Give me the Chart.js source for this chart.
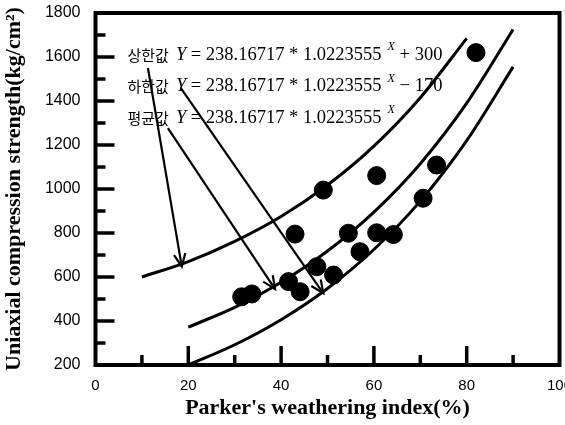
<!DOCTYPE html>
<html>
<head>
<meta charset="utf-8">
<script src="https://cdn.jsdelivr.net/npm/chart.js@4.4.1/dist/chart.umd.min.js"></script>
<style>
  html, body { margin: 0; padding: 0; background: #fff; overflow: hidden; }
  #wrap { position: relative; width: 580px; height: 425px; }
</style>
</head>
<body>
<div id="wrap"><canvas id="c" width="580" height="425"></canvas></div>
<script>
// ---- data ----
const upperX = [10, 20, 30, 40, 50, 60, 70, 80];
const upperY = [600, 670, 762, 875, 1018, 1195, 1415, 1685];
const meanX = [20, 30, 40, 50, 60, 70, 80, 90];
const meanY = [372, 462, 576, 718, 895, 1115, 1390, 1725];
const lowerX = [20, 30, 40, 50, 60, 70, 80, 90];
const lowerY = [200, 292, 406, 548, 725, 945, 1220, 1555];
const pointX = [31.5, 33.7, 41.6, 44.1, 43.0, 47.7, 51.3, 49.1, 54.5, 57.0, 60.6, 64.2, 60.6, 70.6, 73.5, 82.0];
const pointY = [510, 523, 579, 533, 795, 647, 609, 995, 799, 715, 801, 793, 1061, 958, 1109, 1620];
const arrowStartX = [11.3, 15.6, 18.4];
const arrowStartY = [1550, 1277, 1459];
const arrowEndX = [18.6, 38.7, 49.1];
const arrowEndY = [647, 545, 526];
const formulaNames = ['상한값', '하한값', '평균값'];
const formulaBody = ' = 238.16717 * 1.0223555';
const formulaSuffix = [' + 300', ' − 170', ''];
const xTitle = "Parker's weathering index(%)";
const yTitle = 'Uniaxial compression strength(kg/cm²)';

const toXY = (xs, ys) => xs.map((x, i) => ({ x: x, y: ys[i] }));

const curveStyle = { showLine: true, borderColor: '#000', borderWidth: 3, pointRadius: 0, fill: false, tension: 0.4, cubicInterpolationMode: 'monotone' };

const datasets = [
  Object.assign({ label: 'upper', data: toXY(upperX, upperY) }, curveStyle),
  Object.assign({ label: 'mean', data: toXY(meanX, meanY) }, curveStyle),
  Object.assign({ label: 'lower', data: toXY(lowerX, lowerY) }, curveStyle),
  { label: 'points', data: toXY(pointX, pointY), pointRadius: 9, pointBackgroundColor: '#000', pointBorderColor: '#000', showLine: false }
];
arrowStartX.forEach((sx, i) => {
  datasets.push({ label: 'arrow' + i, isArrow: true, data: [{ x: sx, y: arrowStartY[i] }, { x: arrowEndX[i], y: arrowEndY[i] }],
    showLine: true, borderColor: '#000', borderWidth: 2.2, pointRadius: 0, tension: 0 });
});

const framePlugin = {
  id: 'frame',
  afterDatasetsDraw(chart) {
    const ctx = chart.ctx, a = chart.chartArea;
    const xs = chart.scales.x, ys = chart.scales.y;
    ctx.save();
    // formula texts
    formulaNames.forEach((name, i) => {
      let x = a.left + 32;
      const y = 55 + i * 31.5;
      ctx.fillStyle = '#000';
      ctx.textBaseline = 'middle';
      ctx.font = '15px "Noto Sans CJK KR"';
      ctx.fillText(name, x, y);
      x += ctx.measureText(name).width + 7;
      ctx.font = 'italic 18.5px "Liberation Serif"';
      ctx.fillText('Y', x, y);
      x += ctx.measureText('Y').width;
      ctx.font = '18.5px "Liberation Serif"';
      ctx.fillText(formulaBody, x, y);
      x += ctx.measureText(formulaBody).width + 6;
      ctx.font = 'italic 12px "Liberation Serif"';
      ctx.fillText('X', x, y - 8);
      x += ctx.measureText('X').width;
      ctx.font = '18.5px "Liberation Serif"';
      ctx.fillText(formulaSuffix[i], x, y);
    });
    // arrowheads
    chart.data.datasets.forEach((ds, i) => {
      if (!ds.isArrow) return;
      const pts = chart.getDatasetMeta(i).data;
      const p0 = pts[0], p1 = pts[1];
      const ang = Math.atan2(p1.y - p0.y, p1.x - p0.x);
      const L = 14, w = 0.42;
      ctx.strokeStyle = '#000';
      ctx.lineWidth = 2.2;
      ctx.beginPath();
      ctx.moveTo(p1.x - L * Math.cos(ang - w), p1.y - L * Math.sin(ang - w));
      ctx.lineTo(p1.x, p1.y);
      ctx.lineTo(p1.x - L * Math.cos(ang + w), p1.y - L * Math.sin(ang + w));
      ctx.stroke();
    });
    // inward ticks
    ctx.strokeStyle = '#000';
    ctx.lineWidth = 3.5;
    ctx.lineCap = 'butt';
    xs.ticks.forEach(t => {
      if (t.value <= xs.min || t.value >= xs.max) return;
      const px = xs.getPixelForValue(t.value);
      const len = (t.value % 20 === 0) ? 19 : 10;
      ctx.beginPath(); ctx.moveTo(px, a.bottom); ctx.lineTo(px, a.bottom - len); ctx.stroke();
    });
    ys.ticks.forEach(t => {
      if (t.value <= ys.min || t.value >= ys.max) return;
      const py = ys.getPixelForValue(t.value);
      const len = (t.value % 200 === 0) ? 19 : 10;
      ctx.beginPath(); ctx.moveTo(a.left, py); ctx.lineTo(a.left + len, py); ctx.stroke();
    });
    // frame
    ctx.lineWidth = 4;
    ctx.strokeRect(a.left, a.top, a.right - a.left, a.bottom - a.top);
    ctx.restore();
  }
};

new Chart(document.getElementById('c'), {
  type: 'scatter',
  data: { datasets: datasets },
  options: {
    responsive: false,
    animation: false,
    layout: { padding: { left: 0, top: 13, right: 20.5, bottom: 0 } },
    plugins: { legend: { display: false }, tooltip: { enabled: false } },
    scales: {
      x: {
        type: 'linear', min: 0, max: 100,
        grid: { display: false, drawTicks: false },
        border: { display: false },
        ticks: { stepSize: 10, autoSkip: false, maxRotation: 0, padding: 12, color: '#000',
          font: { family: '"Liberation Sans"', size: 15 },
          callback: v => (v % 20 === 0 ? String(v) : '') },
        title: { display: true, text: xTitle, color: '#000', padding: { top: 0, bottom: 3 },
          font: { family: '"Liberation Serif"', size: 22, weight: 'bold' } },
        afterFit: s => { s.height = 60; s.paddingLeft = 0; s.paddingRight = 0; }
      },
      y: {
        type: 'linear', min: 200, max: 1800,
        grid: { display: false, drawTicks: false },
        border: { display: false },
        ticks: { stepSize: 100, autoSkip: false, padding: 15, color: '#000',
          font: { family: '"Liberation Sans"', size: 16 },
          callback: v => (v % 200 === 0 ? String(v) : '') },
        title: { display: true, text: yTitle, color: '#000', padding: { top: 1, bottom: 0 },
          font: { family: '"Liberation Serif"', size: 22, weight: 'bold' } },
        afterFit: s => { s.width = 95.5; s.paddingTop = 0; s.paddingBottom = 0; }
      }
    }
  },
  plugins: [framePlugin]
});
</script>
</body>
</html>
